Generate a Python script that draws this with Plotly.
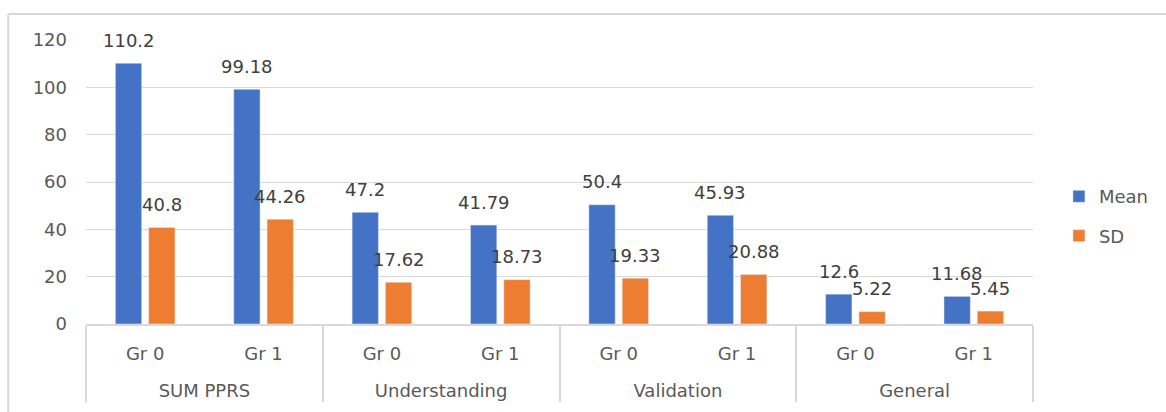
import plotly.graph_objects as go

# Chart data
groups = ["SUM PPRS", "SUM PPRS", "Understanding", "Understanding",
          "Validation", "Validation", "General", "General"]
subgroups = ["Gr 0", "Gr 1", "Gr 0", "Gr 1", "Gr 0", "Gr 1", "Gr 0", "Gr 1"]
mean_vals = [110.2, 99.18, 47.2, 41.79, 50.4, 45.93, 12.6, 11.68]
sd_vals = [40.8, 44.26, 17.62, 18.73, 19.33, 20.88, 5.22, 5.45]
y_ticks = [0, 20, 40, 60, 80, 100, 120]

BLUE = "#4472C4"
ORANGE = "#ED7D31"
GRID = "#d9d9d9"
TXT = "#595959"
LBL = "#404040"
FONT = "DejaVu Sans"

BARGAP = 0.437
GROUPGAP = 0.21

# a spacer line under the inner labels gives the outer row more room
inner = [s + "<br><span style='font-size:28px'> </span>" for s in subgroups]

fig = go.Figure()
fig.add_trace(go.Bar(name="Mean", x=[groups, inner], y=mean_vals,
                     marker_color=BLUE, legendgroup="m"))
fig.add_trace(go.Bar(name="SD", x=[groups, inner], y=sd_vals,
                     marker_color=ORANGE, legendgroup="s"))

# value labels above each bar (centre of each bar slot within the category)
slot = (1 - BARGAP) / 2
offsets = [-slot / 2, slot / 2]
annotations = []
for k, vals in enumerate([mean_vals, sd_vals]):
    for i, v in enumerate(vals):
        annotations.append(dict(
            x=i + offsets[k], y=v, xref="x", yref="y",
            text=f"{v:g}", showarrow=False, yanchor="middle", yshift=23,
            font=dict(family=FONT, size=18, color=LBL)))

# chart-area frame (left and top edges)
fx = (8 - 86) / 950
fy = (324 - 14) / 284
shapes = [
    dict(type="line", xref="paper", yref="paper", x0=fx, x1=fx, y0=fy, y1=-1,
         line=dict(color=GRID, width=2)),
    dict(type="line", xref="paper", yref="paper", x0=fx, x1=1.2, y0=fy, y1=fy,
         line=dict(color=GRID, width=2)),
]

fig.update_layout(
    width=1166, height=412,
    margin=dict(l=86, r=130, t=40, b=88),
    paper_bgcolor="white", plot_bgcolor="white",
    barmode="group", bargap=BARGAP, bargroupgap=GROUPGAP,
    font=dict(family=FONT, size=18, color=TXT),
    showlegend=True,
    legend=dict(x=1.0274, xanchor="left", y=0.38, yanchor="middle",
                font=dict(family=FONT, size=18, color=TXT),
                tracegroupgap=13, bgcolor="rgba(0,0,0,0)"),
    annotations=annotations,
    shapes=shapes,
)
fig.update_xaxes(
    type="multicategory", showgrid=False,
    showline=True, linecolor=GRID, linewidth=2,
    showdividers=True, dividercolor=GRID, dividerwidth=2,
    tickfont=dict(family=FONT, size=18, color=TXT),
    ticks="", ticklabelstandoff=12,
)
fig.update_yaxes(
    range=[0, 120], tickvals=y_ticks,
    showgrid=True, gridcolor=GRID, gridwidth=1,
    zeroline=False, showline=False,
    tickfont=dict(family=FONT, size=18, color=TXT),
    ticklabelstandoff=18,
)

fig.write_html("out.html")
